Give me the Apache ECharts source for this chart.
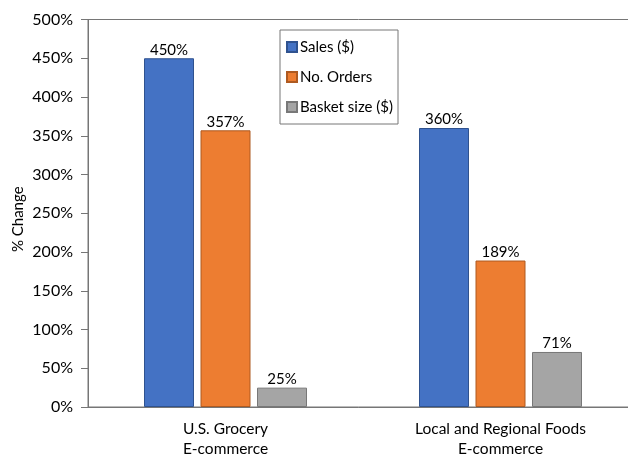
<!DOCTYPE html>
<html><head><meta charset="utf-8">
<script src="https://cdn.jsdelivr.net/npm/echarts@6/dist/echarts.min.js"></script>
<style>html,body{margin:0;padding:0;background:#fff}#c{width:628px;height:456px}</style>
</head><body><div id="c"></div>
<script>
const categories = ["U.S. Grocery\nE-commerce", "Local and Regional Foods\nE-commerce"];
const seriesNames = ["Sales ($)", "No. Orders", "Basket size ($)"];
const sales = [450, 360];
const orders = [357, 189];
const basket = [25, 71];

const fills = ["#4472C4", "#ED7D31", "#A5A5A5"];
const borders = ["#2F528F", "#AE5A21", "#787878"];
const FONT = "Lato";
const chart = echarts.init(document.getElementById('c'), null, {renderer: 'canvas'});
const values = [sales, orders, basket];
chart.setOption({
  animation: false,
  textStyle: {fontFamily: FONT},
  grid: {left: 88, right: -10, top: 19.5, bottom: 49, show: true, borderColor: '#767676', borderWidth: 1,
         containLabel: false, outerBoundsMode: 'none'},
  legend: {
    orient: 'vertical', left: 280, top: 30,
    padding: [9, 5, 9, 6], itemGap: 14,
    borderColor: '#767676', borderWidth: 1,
    itemWidth: 10, itemHeight: 10, icon: 'rect',
    textStyle: {fontFamily: FONT, fontSize: 15, color: '#000', padding: [0, 0, 0, -2], lineHeight: 16},
    data: seriesNames
  },
  xAxis: {
    type: 'category', data: categories,
    axisLine: {lineStyle: {color: '#767676', width: 1}},
    axisTick: {show: false},
    axisLabel: {fontFamily: FONT, fontSize: 15.5, color: '#000', margin: 12, lineHeight: 20}
  },
  yAxis: {
    type: 'value', min: 0, max: 500, interval: 50,
    name: '% Change', nameLocation: 'middle', nameGap: 62, nameRotate: 90, nameMoveOverlap: false,
    nameTextStyle: {fontFamily: FONT, fontSize: 15, color: '#000', padding: [0, 12, 0, 0]},
    axisLine: {show: true, lineStyle: {color: '#767676'}},
    axisTick: {show: true, inside: false, length: 7, lineStyle: {color: '#767676'}},
    splitLine: {show: false},
    axisLabel: {fontFamily: FONT, fontSize: 16, color: '#000', margin: 15, formatter: v => v + '%'}
  },
  series: seriesNames.map((n, i) => ({
    name: n, type: 'bar', data: values[i],
    barWidth: 50, barGap: '13%',
    itemStyle: {color: fills[i], borderColor: borders[i], borderWidth: 1},
    label: {show: true, position: 'top', distance: 1, fontFamily: FONT, fontSize: 15, color: '#000', formatter: p => p.value + '%'}
  }))
});
</script></body></html>
